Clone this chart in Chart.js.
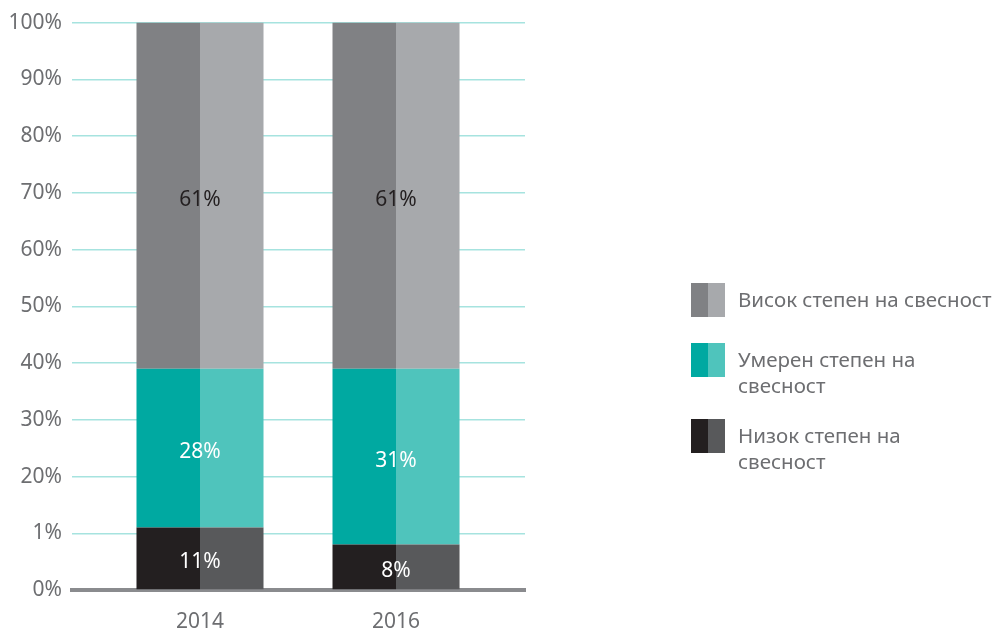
<!DOCTYPE html>
<html>
<head>
<meta charset="utf-8">
<script src="https://cdn.jsdelivr.net/npm/chart.js@4.4.1/dist/chart.umd.min.js"></script>
<style>
    html, body { margin: 0; padding: 0; background: #fff; }
    #wrap { position: relative; width: 997px; height: 629px; }
    #legend { position: absolute; left: 691px; top: 283px; font-family: 'Noto Sans', sans-serif; }
    .item { position: relative; height: 34px; }
    .box { position: absolute; left: 0; top: 0; width: 34px; height: 34px; }
    .box span { float: left; width: 17px; height: 34px; }
    .txt { position: absolute; left: 47px; top: 3px; font-size: 20.5px; line-height: 26px;
           color: #6d6e71; white-space: pre; }
</style>
</head>
<body>
<div id="wrap">
    <canvas id="chart" width="997" height="629"></canvas>
    <div id="legend"></div>
</div>
<script>
// categories and values
const years = ['2014', '2016'];
const lowVals = [11, 8];
const midVals = [28, 31];
const highVals = [61, 61];
const yTickLabels = ['0%', '1%', '20%', '30%', '40%', '50%', '60%', '70%', '80%', '90%', '100%'];
const seriesNames = ['Висок степен на свесност', 'Умерен степен на\nсвесност', 'Низок степен на\nсвесност'];

const segColors = {
    high: ['#808184', '#a7a9ac'],
    mid: ['#00a9a1', '#4fc4bc'],
    low: ['#231f20', '#58595b']
};
const segLabelColors = { high: '#231f20', mid: '#ffffff', low: '#ffffff' };

const FONT = "'Noto Sans', sans-serif";

function pts(vals) {
    return vals.map((v, i) => ({ x: i, y: v }));
}

// each segment is two half-bars (darker left, lighter right)
const segs = [['low', lowVals], ['mid', midVals], ['high', highVals]];
const datasets = [];
segs.forEach(([key, vals]) => {
    ['a', 'b'].forEach((side, k) => {
        datasets.push({
            label: key + side,
            seg: key,
            side: side,
            data: pts(vals),
            stack: side,
            backgroundColor: segColors[key][k],
            borderWidth: 0,
            categoryPercentage: 0.648,
            barPercentage: 1.0
        });
    });
});

// centered value labels over the whole (two-tone) bar
const barLabels = {
    id: 'barLabels',
    afterDatasetsDraw(chart) {
        const ctx = chart.ctx;
        ctx.save();
        ctx.font = '21px ' + FONT;
        ctx.textAlign = 'center';
        ctx.textBaseline = 'middle';
        chart.data.datasets.forEach((ds, di) => {
            if (ds.side !== 'a') return;
            const meta = chart.getDatasetMeta(di);
            meta.data.forEach((bar, i) => {
                const p = bar.getProps(['x', 'y', 'base', 'width'], true);
                ctx.fillStyle = segLabelColors[ds.seg];
                ctx.fillText(ds.data[i].y + '%', p.x + p.width / 2, (p.y + p.base) / 2 + 4);
            });
        });
        ctx.restore();
    }
};

new Chart(document.getElementById('chart'), {
    type: 'bar',
    data: { datasets },
    options: {
        responsive: false,
        animation: false,
        layout: { padding: { top: 22, right: 472, left: 0, bottom: 0 } },
        plugins: {
            legend: { display: false },
            tooltip: { enabled: false }
        },
        scales: {
            x: {
                type: 'linear',
                offset: false,
                min: -0.653,
                max: 1.658,
                afterBuildTicks(scale) { scale.ticks = years.map((_, i) => ({ value: i })); },
                afterFit(scale) { scale.height = 39; },
                grid: { display: false, drawTicks: false },
                border: { display: true, color: '#8a8b8e', width: 4 },
                ticks: {
                    padding: 19,
                    color: '#6d6e71',
                    font: { family: FONT, size: 21 },
                    callback: (v) => years[v]
                }
            },
            y: {
                stacked: true,
                min: 0,
                max: 100,
                afterFit(scale) { scale.width = 72; },
                grid: { color: '#a6e3df', lineWidth: 1.5, drawTicks: false },
                border: { display: false },
                ticks: {
                    stepSize: 10,
                    padding: 10,
                    color: '#6d6e71',
                    font: { family: FONT, size: 21 },
                    callback: (v) => yTickLabels[Math.round(v / 10)]
                }
            }
        }
    },
    plugins: [barLabels]
});

// legend (top to bottom: high, mid, low)
const legendKeys = ['high', 'mid', 'low'];
const legendGaps = [0, 26, 42];
const legend = document.getElementById('legend');
legendKeys.forEach((key, i) => {
    const item = document.createElement('div');
    item.className = 'item';
    item.style.marginTop = legendGaps[i] + 'px';
    item.innerHTML = '<div class="box"><span style="background:' + segColors[key][0] + '"></span>' +
        '<span style="background:' + segColors[key][1] + '"></span></div>' +
        '<div class="txt">' + seriesNames[i] + '</div>';
    legend.appendChild(item);
});
</script>
</body>
</html>
